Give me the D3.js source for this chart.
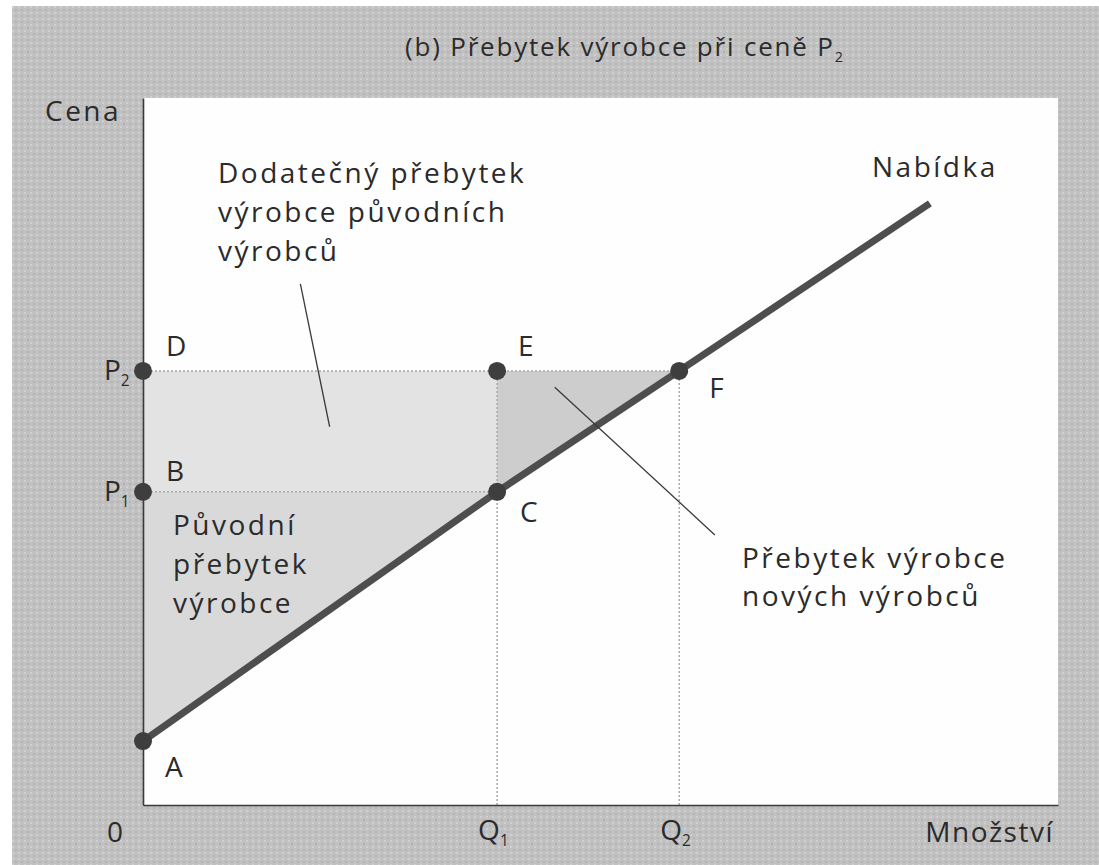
<!DOCTYPE html>
<html><head><meta charset="utf-8">
<script src="https://cdn.jsdelivr.net/npm/d3@7"></script>
<style>
body{margin:0;background:#fff}
svg{display:block}
text{font-family:"Open Sans",sans-serif;fill:#2b2b2b}
</style>
</head><body>
<svg id="c" width="1099" height="865"></svg>
<script>
// ---- data (arbitrary units 0..100) ----
const supplyQ = [0, 38.7, 58.6, 86.0];
const supplyP = [9.05, 44.3, 61.4, 85.1];
const quantityNames = ["Q", "Q"];
const quantitySubs = ["1", "2"];
const quantityValues = [38.7, 58.6];
const priceNames = ["P", "P"];
const priceSubs = ["1", "2"];
const priceValues = [44.3, 61.4];
const interceptP = 9.05;
const pointLetters = ["A", "B", "C", "D", "E", "F"];
const titleText = "(b) Přebytek výrobce při ceně P";
const titleSub = "2";
const yAxisLabel = "Cena";
const xAxisLabel = "Množství";
const supplyLabel = "Nabídka";
const noteExtra = ["Dodatečný přebytek", "výrobce původních", "výrobců"];
const noteOriginal = ["Původní", "přebytek", "výrobce"];
const noteNew = ["Přebytek výrobce", "nových výrobců"];
// leader line anchors in data units [q,p]
const leaderExtra = [[17.2, 73.7], [20.4, 53.5]];
const leaderNew = [[45.0, 59.1], [62.5, 38.2]];

const svg = d3.select("#c");
const W = 1099, H = 865;
const m = {left: 143, right: 1058, top: 98, bottom: 805};
const x = d3.scaleLinear().domain([0, 100]).range([m.left, m.right]);
const y = d3.scaleLinear().domain([0, 100]).range([m.bottom, m.top]);

const Q1 = quantityValues[0], Q2 = quantityValues[1];
const P1 = priceValues[0], P2 = priceValues[1];

// background with halftone-like pattern
const defs = svg.append("defs");
const pat = defs.append("pattern").attr("id", "ht").attr("width", 6).attr("height", 6)
  .attr("patternUnits", "userSpaceOnUse");
pat.append("rect").attr("width", 6).attr("height", 6).attr("fill", "#c1c1c1");
pat.append("rect").attr("x", 0).attr("y", 0).attr("width", 2).attr("height", 2).attr("fill", "#cfcfcf");
pat.append("rect").attr("x", 3).attr("y", 3).attr("width", 2).attr("height", 2).attr("fill", "#b3b3b3");

svg.append("rect").attr("width", W).attr("height", H).attr("fill", "#fff");
svg.append("rect").attr("x", 12).attr("y", 6).attr("width", W - 12).attr("height", H - 6).attr("fill", "url(#ht)");

// plot area
svg.append("rect").attr("x", x(0)).attr("y", y(100)).attr("width", x(100) - x(0)).attr("height", y(0) - y(100)).attr("fill", "#fefefe");

// shaded regions
const poly = pts => "M" + pts.map(p => x(p[0]) + "," + y(p[1])).join("L") + "Z";
svg.append("path").attr("d", poly([[0, P1], [0, P2], [Q1, P2], [Q1, P1]])).attr("fill", "#e3e3e3");
svg.append("path").attr("d", poly([[0, interceptP], [0, P1], [Q1, P1]])).attr("fill", "#d9d9d9");
svg.append("path").attr("d", poly([[Q1, P1], [Q1, P2], [Q2, P2]])).attr("fill", "#cdcdcd");

// dotted guide lines
const guides = [
  [[0, P2], [Q2, P2]],
  [[0, P1], [Q1, P1]],
  [[Q1, P2], [Q1, 0]],
  [[Q2, P2], [Q2, 0]]
];
svg.selectAll("line.g").data(guides).join("line").attr("class", "g")
  .attr("x1", d => x(d[0][0])).attr("y1", d => y(d[0][1]))
  .attr("x2", d => x(d[1][0])).attr("y2", d => y(d[1][1]))
  .attr("stroke", "#a8a8a8").attr("stroke-width", 1.5).attr("stroke-dasharray", "2,2");

// axes
const xAxis = d3.axisBottom(x).tickValues([]).tickSize(0).tickSizeOuter(0);
const yAxis = d3.axisLeft(y).tickValues([]).tickSize(0).tickSizeOuter(0);
const gx = svg.append("g").attr("transform", `translate(0,${y(0)})`).call(xAxis);
const gy = svg.append("g").attr("transform", `translate(${x(0)},0)`).call(yAxis);
gx.select(".domain").attr("stroke", "#3a3a3a").attr("stroke-width", 1.6);
gy.select(".domain").attr("stroke", "#3a3a3a").attr("stroke-width", 1.6);

// supply line
const line = d3.line().x((d, i) => x(supplyQ[i])).y((d, i) => y(supplyP[i]));
svg.append("path").attr("d", line(supplyQ)).attr("fill", "none")
  .attr("stroke", "#4e4e4e").attr("stroke-width", 7);

// leader lines
[leaderExtra, leaderNew].forEach(l => {
  svg.append("line").attr("x1", x(l[0][0])).attr("y1", y(l[0][1]))
    .attr("x2", x(l[1][0])).attr("y2", y(l[1][1]))
    .attr("stroke", "#3a3a3a").attr("stroke-width", 1.3);
});

// dots
const dots = [[0, interceptP], [0, P1], [Q1, P1], [0, P2], [Q1, P2], [Q2, P2]];
svg.selectAll("circle.d").data(dots).join("circle").attr("class", "d")
  .attr("cx", d => x(d[0])).attr("cy", d => y(d[1])).attr("r", 9)
  .attr("fill", "#3e3e3e");

const FS = 28;
function label(tx, ty, str, opts = {}) {
  const fs = opts.size || FS;
  const t = svg.append("text").attr("x", tx).attr("y", ty)
    .attr("font-size", fs).attr("text-anchor", opts.anchor || "start")
    .attr("letter-spacing", opts.ls !== undefined ? opts.ls : 2.5);
  t.append("tspan").text(str);
  if (opts.sub) t.append("tspan").attr("font-size", fs * 0.55).attr("dy", 6).text(opts.sub);
  return t;
}

// title
label(405, 56, titleText, {size: 26, ls: 1.8, sub: titleSub});
// axis titles
label(45, 121, yAxisLabel);
label(x(100) - 4, 842, xAxisLabel, {anchor: "end", ls: 1.5});
label(x(0) - 36, 842, "0", {ls: 0});
quantityNames.forEach((n, i) => label(x(quantityValues[i]) - 19, 840, n, {sub: quantitySubs[i], ls: 0}));
priceNames.forEach((n, i) => label(x(0) - 39, y(priceValues[i]) + 9, n, {sub: priceSubs[i], ls: 0}));

// point letters
const letterPos = {
  A: [x(0) + 22, y(interceptP) + 36],
  B: [x(0) + 23, y(P1) - 11],
  C: [x(Q1) + 23, y(P1) + 30],
  D: [x(0) + 23, y(P2) - 15],
  E: [x(Q1) + 21, y(P2) - 15],
  F: [x(Q2) + 30, y(P2) + 27]
};
pointLetters.forEach(l => label(letterPos[l][0], letterPos[l][1], l, {ls: 0}));

// supply label
label(872, 177, supplyLabel);

// notes
noteExtra.forEach((s, i) => label(218, 183 + i * 39, s));
noteOriginal.forEach((s, i) => label(173, 535 + i * 39, s));
noteNew.forEach((s, i) => label(742, 568 + i * 38, s));
</script>
</body></html>
